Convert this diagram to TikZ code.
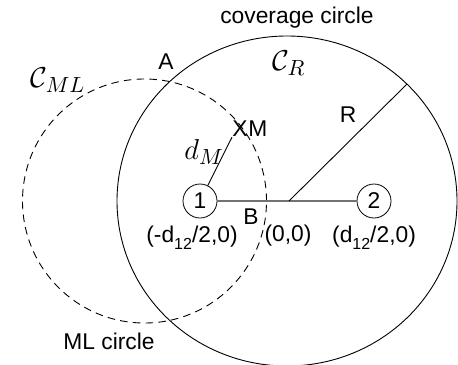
\documentclass[tikz,border=0pt]{standalone}
\usepackage{amsmath,amssymb}
\usepackage{xcolor}
\usepackage{fontspec}
\setmainfont{Liberation Sans}
\usetikzlibrary{positioning,calc}

\newcommand{\lowsub}[1]{\raisebox{-0.55ex}{\fontsize{8}{9}\selectfont #1}}

\begin{document}
\begin{tikzpicture}[x=0.5pt, y=-0.5pt, font=\fontsize{11.4}{13}\selectfont,
    station/.style={draw, circle, minimum size=17pt, inner sep=0pt},
    mathlbl/.style={font=\fontsize{15.5}{17}\selectfont, inner sep=0pt},
    txt/.style={inner sep=0pt},
    mldash/.style={dash pattern=on 3.8pt off 2.6pt}]
    \useasboundingbox (0,0) rectangle (458,364);
    \coordinate (O) at (289,201);
    \coordinate (cov) at (287,201);
    \coordinate (ml) at (144.5,201);
    \coordinate (Rend) at (407,84);
    \draw[line width=0.45pt] (cov) ellipse [x radius=85pt, y radius=82.5pt];
    \draw[line width=0.45pt, mldash] (ml) circle [radius=61pt];
    \node[station] (n1) at (200,201) {1};
    \node[station] (n2) at (374,201) {2};
    \node[txt] (X) at (240,129) {X};
    \node[txt, right=0pt of X] (M) {M};
    \draw[black!55, line width=0.7pt] (n1) -- (O) -- (n2);
    \draw[line width=0.45pt] (O) -- (Rend);
    \draw[line width=0.45pt] (n1) -- (X.south west);
    \node[txt] (cap) at (297,18) {coverage circle};
    \node[txt] (A) at (166,62) {A};
    \node[mathlbl] (CR) at (289,63) {$\mathcal{C}_R$};
    \node[mathlbl] (CML) at (58,80) {$\mathcal{C}_{ML}$};
    \node[txt] (Rl) at (348,115) {R};
    \node[mathlbl] (dM) at (204,152) {$d_M$};
    \node[txt] (B) at (251,217) {B};
    \node[txt] (p1) at (192,238) {(-d\lowsub{12}/2,0)};
    \node[txt] (p0) at (288,236) {(0,0)};
    \node[txt] (p2) at (374,238) {(d\lowsub{12}/2,0)};
    \node[txt] (mlc) at (109,341) {ML circle};
\end{tikzpicture}
\end{document}
